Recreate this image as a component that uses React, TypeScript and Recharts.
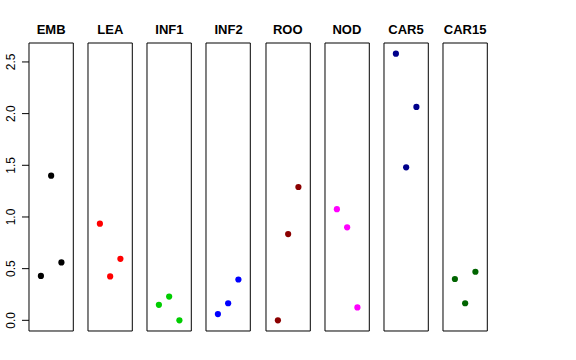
import React from 'react';
import { ScatterChart, Scatter, XAxis, YAxis, ReferenceArea } from 'recharts';

const panelNames = ['EMB', 'LEA', 'INF1', 'INF2', 'ROO', 'NOD', 'CAR5', 'CAR15'];
const panelColors = ['#000000', '#FF0000', '#00CD00', '#0000FF', '#8B0000', '#FF00FF', '#00008B', '#006400'];
const xPositions = [1, 2, 3];
const embValues = [0.43, 1.40, 0.56];
const leaValues = [0.935, 0.425, 0.595];
const inf1Values = [0.15, 0.23, 0.0];
const inf2Values = [0.06, 0.165, 0.395];
const rooValues = [0.0, 0.835, 1.29];
const nodValues = [1.075, 0.90, 0.125];
const car5Values = [2.58, 1.48, 2.065];
const car15Values = [0.40, 0.165, 0.47];
const yTicks = [0, 0.5, 1.0, 1.5, 2.0, 2.5];

const allValues = [embValues, leaValues, inf1Values, inf2Values, rooValues, nodValues, car5Values, car15Values];

const Y_DOMAIN: [number, number] = [-0.1032, 2.6832];
const X_DOMAIN: [number, number] = [-0.16, 4.16];

const PLOT_LEFT0 = 29;
const PLOT_STEP = 59.14;
const PW = 44.3;
const PT = 43;
const PH = 288;
const FONT = '"Liberation Sans", Arial, Helvetica, sans-serif';

const YTick = (props: any) => {
  const { x, y, payload } = props;
  const tx = x - 7;
  return (
    <text x={tx} y={y} transform={`rotate(-90 ${tx} ${y})`} textAnchor="middle" fontSize={12} fill="#000" fontFamily={FONT}>
      {Number(payload.value).toFixed(1)}
    </text>
  );
};

function Panel({ i }: { i: number }) {
  const first = i === 0;
  const plotLeft = PLOT_LEFT0 + i * PLOT_STEP;
  const left = first ? 0 : plotLeft - 1;
  const width = first ? PLOT_LEFT0 + PW + 1 : PW + 2;
  const color = panelColors[i];
  const data = xPositions.map((x, k) => ({ x, y: allValues[i][k] }));
  return (
    <div style={{ position: 'absolute', left, top: PT - 1 }}>
      <ScatterChart width={width} height={PH + 2} margin={{ top: 1, right: 1, bottom: 1, left: first ? 0 : 1 }}>
        <XAxis type="number" dataKey="x" domain={X_DOMAIN} hide allowDataOverflow />
        <YAxis
          type="number"
          dataKey="y"
          domain={Y_DOMAIN}
          hide={!first}
          width={PLOT_LEFT0}
          ticks={yTicks}
          interval={0}
          tickSize={7}
          tickMargin={0}
          tick={<YTick />}
          axisLine={false}
          tickLine={{ stroke: '#000' }}
          allowDataOverflow
        />
        <ReferenceArea
          x1={X_DOMAIN[0]}
          x2={X_DOMAIN[1]}
          y1={Y_DOMAIN[0]}
          y2={Y_DOMAIN[1]}
          fill="none"
          fillOpacity={0}
          stroke="#000"
          strokeWidth={1}
          ifOverflow="visible"
        />
        <Scatter
          data={data}
          fill={color}
          isAnimationActive={false}
          shape={(p: any) => <circle cx={p.cx} cy={p.cy} r={3.1} fill={color} />}
        />
      </ScatterChart>
    </div>
  );
}

export default function App() {
  return (
    <div style={{ position: 'absolute', left: 0, top: 0, width: 576, height: 360, background: '#fff', overflow: 'hidden' }}>
      <svg width={576} height={360} style={{ position: 'absolute', left: 0, top: 0 }}>
        {panelNames.map((name, i) => (
          <text
            key={name}
            x={PLOT_LEFT0 + i * PLOT_STEP + PW / 2}
            y={34.3}
            textAnchor="middle"
            fontSize={13}
            fontWeight="bold"
            fontFamily={FONT}
            fill="#000"
          >
            {name}
          </text>
        ))}
      </svg>
      {panelNames.map((name, i) => (
        <Panel key={name} i={i} />
      ))}
    </div>
  );
}
